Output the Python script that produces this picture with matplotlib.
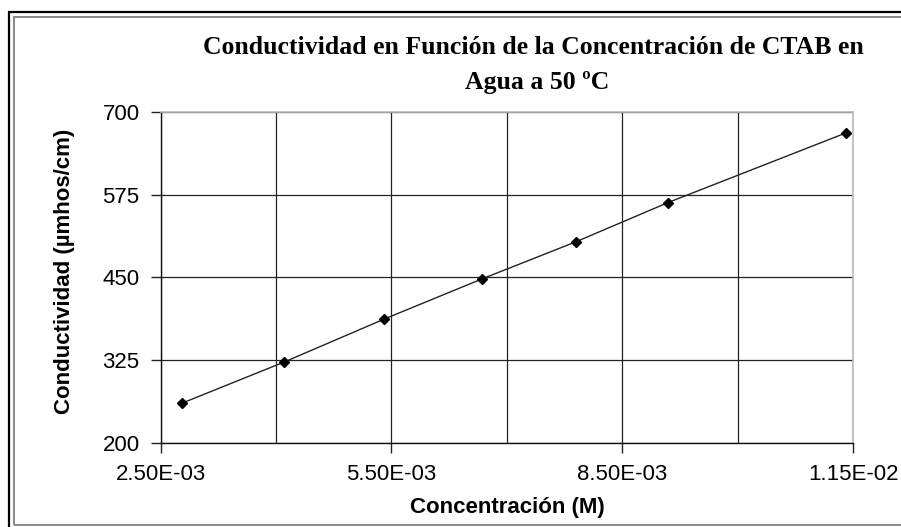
import matplotlib.pyplot as plt
from matplotlib.patches import Rectangle
from matplotlib.ticker import FixedLocator, FuncFormatter

# conductivity of CTAB solutions at 50 C
concentracion = [2.776e-3, 4.109e-3, 5.409e-3, 6.675e-3, 7.900e-3, 9.092e-3, 11.406e-3]
conductividad = [260.0, 322.4, 387.3, 447.7, 504.0, 563.0, 668.3]

x_ticks = [2.5e-3, 5.5e-3, 8.5e-3, 11.5e-3]
x_grid = [2.5e-3, 4.0e-3, 5.5e-3, 7.0e-3, 8.5e-3, 10.0e-3, 11.5e-3]
y_ticks = [200, 325, 450, 575, 700]

W, H = 901, 527
fig = plt.figure(figsize=(W / 100, H / 100), dpi=100)
fig.patch.set_facecolor('white')

# double frame around the chart area
fig.patches.append(Rectangle((8.5 / W, -0.1), 1.2, 1 - 11.5 / H + 0.1,
                             transform=fig.transFigure, fill=False,
                             ec='black', lw=1.6))
fig.patches.append(Rectangle((14.5 / W, 1 - 525 / H), 1.2, (525 - 16.5) / H,
                             transform=fig.transFigure, fill=False,
                             ec='#888888', lw=1.4))

ax = fig.add_axes([160.5 / W, 1 - 443 / H, (853 - 160.5) / W, (443 - 112) / H])

ax.plot(concentracion, conductividad, color='#222222', lw=1.0,
        marker='D', ms=5.5, mfc='black', mec='black', zorder=3)

ax.set_xlim(2.5e-3, 11.5e-3)
ax.set_ylim(200, 700)
ax.xaxis.set_major_locator(FixedLocator(x_ticks))
ax.xaxis.set_minor_locator(FixedLocator(x_grid))
ax.set_yticks(y_ticks)
ax.xaxis.set_major_formatter(FuncFormatter(lambda v, p: f"{v:.2E}"))

ax.grid(True, which='both', axis='x', color='#222222', lw=0.9)
ax.grid(True, which='major', axis='y', color='#222222', lw=0.9)
ax.tick_params(axis='x', which='minor', length=0)
ax.tick_params(axis='both', which='major', length=7, width=1, color='#222222',
               labelsize=16, labelcolor='black', pad=8)

for side in ('top', 'right'):
    ax.spines[side].set_color('#bbbbbb')
    ax.spines[side].set_linewidth(1.2)
for side in ('left', 'bottom'):
    ax.spines[side].set_color('#111111')
    ax.spines[side].set_linewidth(1.0)

for lab in ax.get_xticklabels() + ax.get_yticklabels():
    lab.set_family('Liberation Sans')

fig.text(533 / W, 1 - 47 / H,
         "Conductividad en Función de la Concentración de CTAB en",
         ha='center', va='center', family='Liberation Serif',
         weight='bold', fontsize=18.5)
fig.text(537 / W, 1 - 82 / H, "Agua a 50 ºC", ha='center', va='center',
         family='Liberation Serif', weight='bold', fontsize=18.5)

fig.text(507 / W, 1 - 507 / H, "Concentración (M)", ha='center', va='center',
         family='Liberation Sans', weight='bold', fontsize=16)
fig.text(65 / W, 1 - 271 / H, "Conductividad (µmhos/cm)", ha='center',
         va='center', rotation=90, family='Liberation Sans', weight='bold',
         fontsize=16)

fig.savefig('out.png', dpi=100)
